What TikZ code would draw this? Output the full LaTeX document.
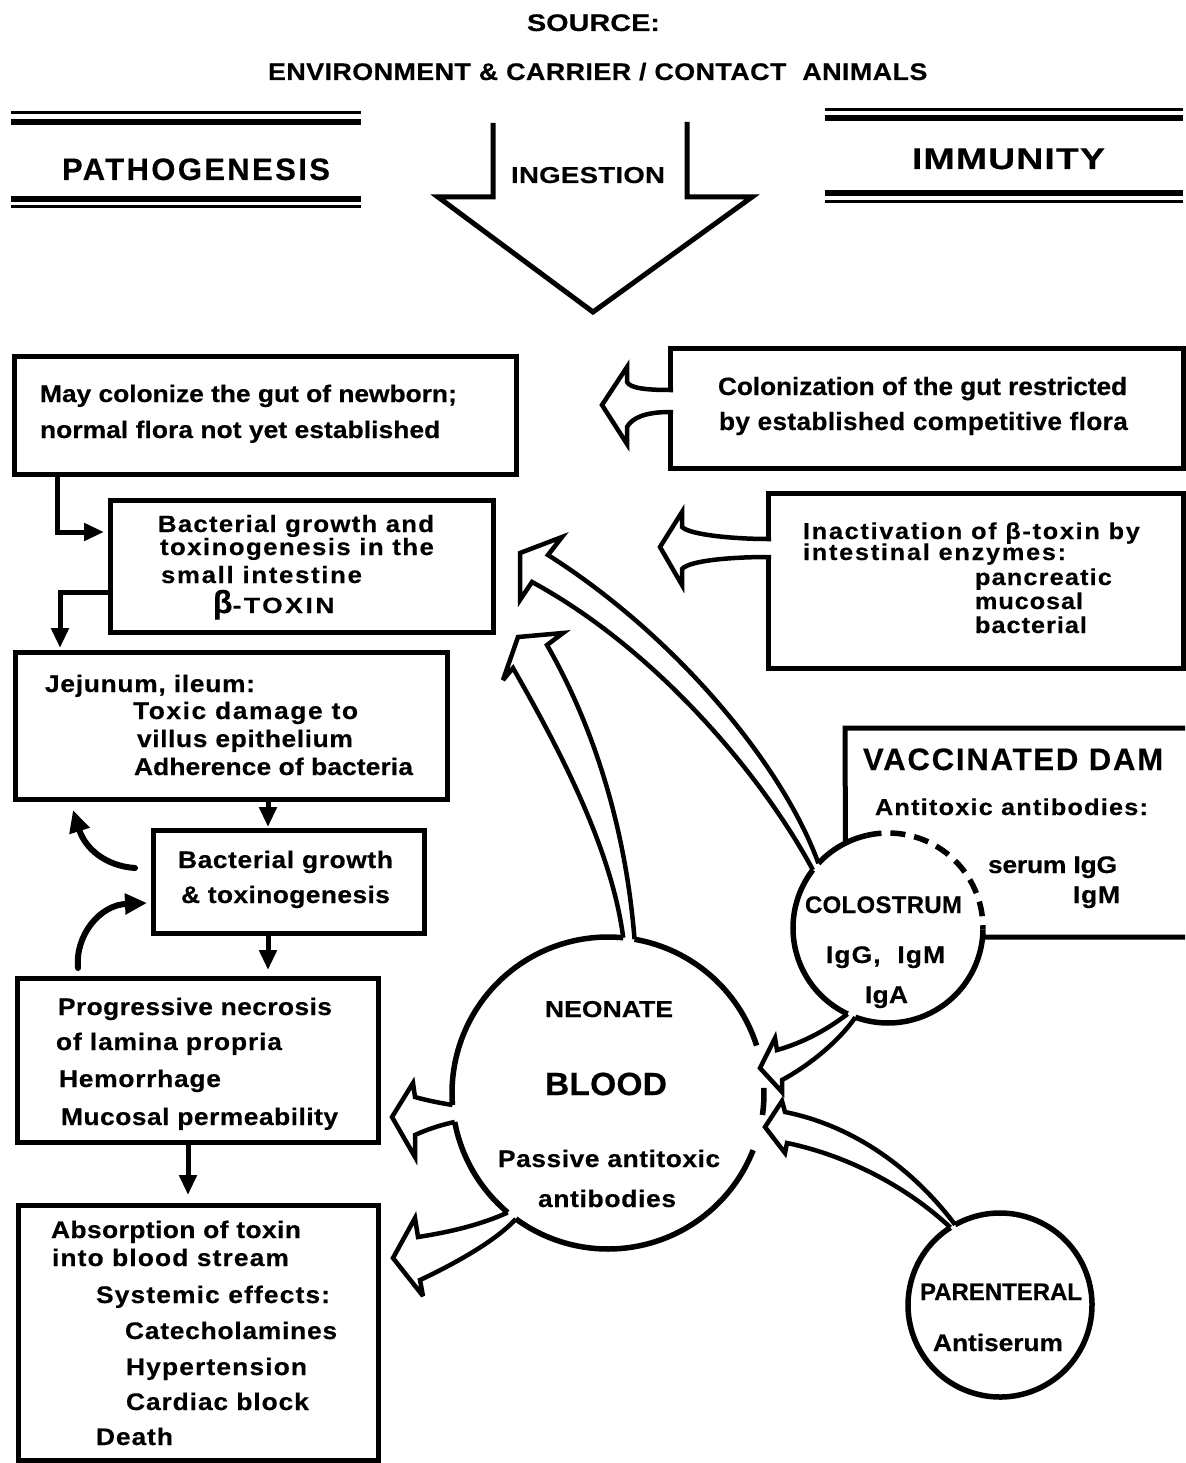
\documentclass[tikz,border=0pt]{standalone}
\usepackage{fontspec}
\setmainfont{Liberation Sans}[BoldFont={Liberation Sans Bold}]
\usetikzlibrary{arrows.meta,calc}
\newlength\fwA
\newlength\fwB
\newcommand\fitw[2]{%
  \settowidth\fwA{\addfontfeatures{LetterSpace=0}#2}%
  \settowidth\fwB{\addfontfeatures{LetterSpace=40}#2}%
  \pgfmathparse{round(10*max(-8,min(40,40*(#1-\fwA)/(\fwB-\fwA))))/10}%
  \edef\fitls{\pgfmathresult}%
  \addfontfeatures{LetterSpace=\fitls}#2}
\newcommand\tx[4][1.1]{\fontsize{#2}{#2}\selectfont\addfontfeatures{FakeStretch=#1,FakeBold=0.4}\fitw{#3}{#4}}
\begin{document}
\begin{tikzpicture}[x=1pt,y=-1pt,
  box/.style={draw, line width=5pt, inner sep=0pt, outer sep=0pt, anchor=north west},
  hollow/.style={fill=white, draw, line width=4.5pt, line join=miter, miter limit=4},
  lnk/.style={line width=5pt, -{Triangle[length=20pt,width=17pt]}},
  curl/.style={line width=6pt, line cap=round, -{Triangle[length=22pt,width=20pt]}},
  ring/.style={line width=5.5pt},
  txt/.style={anchor=base west, inner sep=0pt, outer sep=0pt, font=\bfseries}]
\fill[white] (0,0) rectangle (1185,1463);
\useasboundingbox (0,0) rectangle (1185,1463);

% ---------- title ----------
\node[txt] (tsrc) at (527,31) {\tx[1.2]{24}{133}{SOURCE:}};
\node[txt] (tenv) at (268,80) {\tx[1.12]{24}{659}{ENVIRONMENT \& CARRIER / CONTACT\hspace{8pt} ANIMALS}};

% ---------- headers ----------
\draw[line width=3pt] (11,113) -- (361,113);
\draw[line width=6pt] (11,122) -- (361,122);
\draw[line width=6pt] (11,199) -- (361,199);
\draw[line width=3pt] (11,207) -- (361,207);
\node[txt] (tpath) at (62,180) {\tx[1.0]{31}{268}{PATHOGENESIS}};
\draw[line width=3pt] (825,110) -- (1183,110);
\draw[line width=6pt] (825,118) -- (1183,118);
\draw[line width=6pt] (825,193) -- (1183,193);
\draw[line width=3pt] (825,202) -- (1183,202);
\node[txt] (timm) at (912,169) {\tx[1.25]{30}{193}{IMMUNITY}};

% ---------- ingestion arrow ----------
\draw[line width=5pt, line join=miter] (493,123) -- (493,197) -- (438,197) -- (593,312) -- (752,197) -- (687,197) -- (687,122);
\node[txt] (ting) at (511,183) {\tx[1.2]{23}{154}{INGESTION}};

% ---------- boxes ----------
\node[box, minimum width=502pt, minimum height=118pt] (b1) at (14,356) {};
\node[box, minimum width=513pt, minimum height=120pt] (bcol) at (670,348) {};
\node[box, minimum width=415pt, minimum height=175pt] (binact) at (768,493) {};
\node[box, minimum width=383pt, minimum height=132pt] (b2) at (110,500) {};
\node[box, minimum width=432pt, minimum height=147pt] (bjej) at (15,652) {};
\node[box, minimum width=271pt, minimum height=103pt] (b3) at (153,830) {};
\node[box, minimum width=361pt, minimum height=164pt] (bprog) at (17,978) {};
\node[box, minimum width=360pt, minimum height=255pt] (babs) at (18,1205) {};

% ---------- circles ----------
\node[circle, minimum size=312pt, inner sep=0pt] (neo) at (608,1093) {};
\node[circle, minimum size=190pt, inner sep=0pt] (col) at (888,928) {};
\node[circle, minimum size=184pt, inner sep=0pt] (par) at (1000,1305) {};

\draw[ring] ($(neo.center)+(-80.2:156)$) arc[start angle=-80.2, end angle=-17.7, radius=156];
\draw[ring] ($(neo.center)+(-1.9:156)$) arc[start angle=-1.9, end angle=8.1, radius=156];
\draw[ring] ($(neo.center)+(21.5:156)$) arc[start angle=21.5, end angle=126.2, radius=156];
\draw[ring] ($(neo.center)+(130:156)$) arc[start angle=130, end angle=169.3, radius=156];
\draw[ring] ($(neo.center)+(175.6:156)$) arc[start angle=175.6, end angle=275.6, radius=156];

\draw[ring] ($(col.center)+(222.9:95)$) arc[start angle=222.9, end angle=257, radius=95];
\draw[ring, dash pattern=on 15pt off 9pt] ($(col.center)+(257:95)$) arc[start angle=257, end angle=361, radius=95];
\draw[ring] ($(col.center)+(1:95)$) arc[start angle=1, end angle=110.1, radius=95];
\draw[ring] ($(col.center)+(115.2:95)$) arc[start angle=115.2, end angle=217.7, radius=95];

\draw[ring] ($(par.center)+(240.8:92)$) arc[start angle=240.8, end angle=597.4, radius=92];

% vaccinated dam box (open)
\draw[line width=5pt, line join=miter] ($(col.center)+(243.4:95)$) -- (845,728) -- (1185,728);
\draw[line width=5pt] ($(col.center)+(5.5:95)$) -- (1185,937);

% ---------- hollow arrows ----------
\filldraw[hollow] ($(bcol.west)+(3,-18)$) -- ++(-3,0) .. controls (645,390) and (630,388) .. (627,382) -- (627,367) -- (602,405) -- (627,444) -- (627,427) .. controls (632,418) and (645,412) .. ($(bcol.west)+(0,4)$) -- ++(3,0);
\filldraw[hollow] ($(binact.west)+(3,-41.5)$) -- ++(-3,0) .. controls (735,539) and (690,535) .. (682,527) -- (682,512) -- (660,547) -- (682,585) -- (682,569) .. controls (690,560) and (735,557) .. ($(binact.west)+(0,-23.5)$) -- ++(3,0);
\filldraw[hollow] ($(neo.center)+(-80.2:156)$) .. controls (625,820) and (590,720) .. (547,645) -- (563,633) -- (518,637) -- (503,680) -- (513,668) .. controls (560,750) and (612,850) .. ($(neo.center)+(-84.4:156)$);
\filldraw[hollow] ($(col.center)+(222.9:95)$) .. controls (784,768) and (679,638) .. (548,555) -- (562,537) -- (520,553) -- (520,600) -- (532,582) .. controls (661,652) and (766,782) .. ($(col.center)+(217.7:95)$);
\filldraw[hollow] ($(col.center)+(115.2:95)$) .. controls (820,1035) and (795,1045) .. (777,1050) -- (775,1038) -- (760,1068) -- (782,1092) -- (782,1080) .. controls (810,1065) and (840,1040) .. ($(col.center)+(110.1:95)$);
\filldraw[hollow] ($(par.center)+(240.8:92)$) .. controls (910,1165) and (850,1125) .. (785,1112) -- (782,1101) -- (765,1127) -- (785,1153) -- (787,1143) .. controls (845,1155) and (905,1185) .. ($(par.center)+(237.4:92)$);
\filldraw[hollow] ($(neo.center)+(175.6:156)$) .. controls (440,1103) and (425,1100) .. (415,1097) -- (413,1083) -- (392,1117) -- (415,1157) -- (415,1135) .. controls (430,1128) and (445,1124) .. ($(neo.center)+(169.3:156)$);
\filldraw[hollow] ($(neo.center)+(130:156)$) .. controls (480,1225) and (450,1232) .. (418,1237) -- (415,1218) -- (393,1258) -- (423,1296) -- (420,1280) .. controls (450,1266) and (495,1242) .. ($(neo.center)+(126.2:156)$);

% ---------- line arrows ----------
\draw[lnk] ($(b1.south west)+(43,0)$) |- ($(b2.north west)+(-6,32)$);
\draw[lnk] ($(b2.north west)+(0,92)$) -| ($(bjej.north west)+(45,-4)$);
\draw[lnk] ($(bjej.south west)+(253,0)$) -- ($(b3.north west)+(115,-3)$);
\draw[lnk] ($(b3.south west)+(115,0)$) -- ($(bprog.north west)+(251,-8)$);
\draw[lnk] ($(bprog.south west)+(171,0)$) -- ($(babs.north west)+(170,-10)$);
\draw[curl] ($(b3.west)+(-18,-13.5)$) .. controls (105,866) and (85,848) .. ($(bjej.south west)+(58,11)$);
\draw[curl] ($(bprog.north west)+(61,-10)$) .. controls (75,935) and (100,905) .. ($(b3.west)+(-6,21.5)$);

% ---------- texts ----------
\node[txt] (t1a) at (40,402) {\tx{24}{417}{May colonize the gut of newborn;}};
\node[txt] (t1b) at (40,438) {\tx{24}{400}{normal flora not yet established}};

\node[txt] (tca) at (718,395) {\tx[1.05]{25}{409}{Colonization of the gut restricted}};
\node[txt] (tcb) at (719,430) {\tx[1.05]{25}{409}{by established competitive flora}};

\node[txt] (tia) at (803,539) {\tx{23}{337}{Inactivation of β-toxin by}};
\node[txt] (tib) at (803,560) {\tx{23}{263}{intestinal enzymes:}};
\node[txt] (tic) at (975,585) {\tx{23}{137}{pancreatic}};
\node[txt] (tid) at (975,609) {\tx{23}{108}{mucosal}};
\node[txt] (tie) at (975,633) {\tx{23}{112}{bacterial}};

\node[txt] (t2a) at (158,532) {\tx{23.5}{276}{Bacterial growth and}};
\node[txt] (t2b) at (160,555) {\tx{23.5}{274}{toxinogenesis in the}};
\node[txt] (t2c) at (161,583) {\tx{23.5}{201}{small intestine}};
\node[txt] (t2d) at (213,613) {\fontsize{32}{32}\selectfont\addfontfeatures{FakeBold=0.4}β\tx[1.2]{22}{102}{-TOXIN}};

\node[txt] (tja) at (45,692) {\tx{24}{210}{Jejunum, ileum:}};
\node[txt] (tjb) at (133,719) {\tx{24}{225}{Toxic damage to}};
\node[txt] (tjc) at (137,747) {\tx{24}{216}{villus epithelium}};
\node[txt] (tjd) at (134,775) {\tx{24}{279}{Adherence of bacteria}};

\node[txt] (t3a) at (178,868) {\tx{24}{215}{Bacterial growth}};
\node[txt] (t3b) at (181,903) {\tx{24}{209}{\& toxinogenesis}};

\node[txt] (tpa) at (58,1015) {\tx{24}{274}{Progressive necrosis}};
\node[txt] (tpb) at (56,1050) {\tx{24}{226}{of lamina propria}};
\node[txt] (tpc) at (59,1087) {\tx{24}{162}{Hemorrhage}};
\node[txt] (tpd) at (61,1125) {\tx{24}{277}{Mucosal permeability}};

\node[txt] (taa) at (51,1238) {\tx{24}{250}{Absorption of toxin}};
\node[txt] (tab) at (52,1266) {\tx{24}{237}{into blood stream}};
\node[txt] (tac) at (96,1303) {\tx{24}{234}{Systemic effects:}};
\node[txt] (tad) at (125,1339) {\tx{24}{212}{Catecholamines}};
\node[txt] (tae) at (126,1375) {\tx{24}{181}{Hypertension}};
\node[txt] (taf) at (126,1410) {\tx{24}{183}{Cardiac block}};
\node[txt] (tag) at (96,1445) {\tx{24}{77}{Death}};

\node[txt] (tna) at (545,1017) {\tx[1.15]{23}{128}{NEONATE}};
\node[txt] (tnb) at (545,1095) {\tx[1.05]{32}{122}{BLOOD}};
\node[txt] (tnc) at (498,1167) {\tx{24}{222}{Passive antitoxic}};
\node[txt] (tnd) at (538,1207) {\tx{24}{138}{antibodies}};

\node[txt] (toa) at (805,913) {\tx[1.0]{24}{157}{COLOSTRUM}};
\node[txt] (tob) at (826,963) {\tx{24}{119}{IgG,\ \ IgM}};
\node[txt] (toc) at (865,1003) {\tx{24}{43}{IgA}};

\node[txt] (tva) at (863,770) {\tx[1.0]{31}{300}{VACCINATED DAM}};
\node[txt] (tvb) at (875,815) {\tx{23}{273}{Antitoxic antibodies:}};
\node[txt] (tvc) at (988,873) {\tx{24}{129}{serum IgG}};
\node[txt] (tvd) at (1073,903) {\tx{24}{47}{IgM}};

\node[txt] (tra) at (920,1300) {\tx[1.0]{24}{162}{PARENTERAL}};
\node[txt] (trb) at (933,1351) {\tx{24}{130}{Antiserum}};
\end{tikzpicture}
\end{document}
